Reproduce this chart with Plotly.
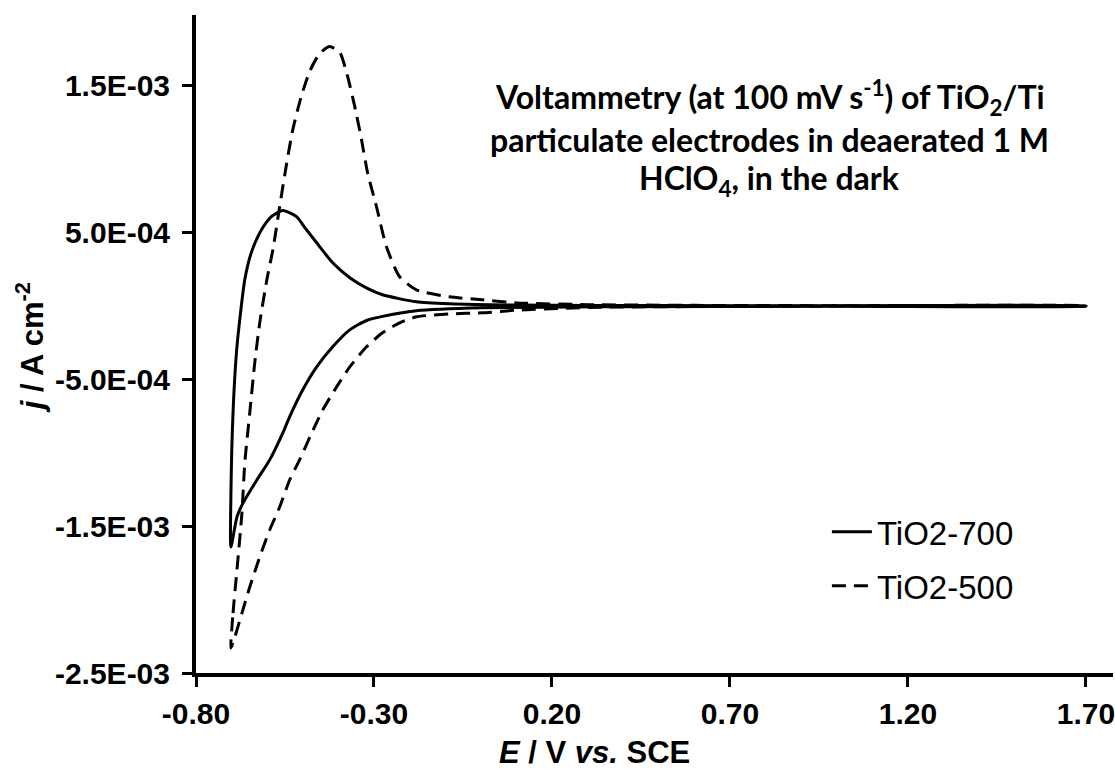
import plotly.graph_objects as go

# ---- data (E in V vs SCE, j in A cm^-2) ----
E_700 = [-0.702, -0.702, -0.696, -0.685, -0.663, -0.645, -0.621, -0.605, -0.587, -0.556,
         -0.517, -0.492, -0.461, -0.416, -0.368, -0.320, -0.276, -0.181, -0.088, 0.10,
         0.50, 1.00, 1.70,
         1.70, 1.00, 0.332, 0.004, -0.181, -0.276, -0.321, -0.368, -0.416, -0.461,
         -0.500, -0.537, -0.556, -0.593, -0.629, -0.668, -0.685, -0.702]
j_700 = [-1.642e-3, -1.30e-3, -0.729e-3, -0.279e-3, 0.177e-3, 0.360e-3, 0.497e-3, 0.560e-3, 0.610e-3, 0.649e-3,
         0.606e-3, 0.525e-3, 0.429e-3, 0.293e-3, 0.191e-3, 0.120e-3, 0.075e-3, 0.027e-3, 0.014e-3, 0.005e-3,
         0.002e-3, 0.0, 0.0,
         -0.002e-3, -0.003e-3, -0.007e-3, -0.014e-3, -0.034e-3, -0.072e-3, -0.100e-3, -0.164e-3, -0.279e-3, -0.416e-3,
         -0.572e-3, -0.756e-3, -0.865e-3, -1.049e-3, -1.186e-3, -1.343e-3, -1.438e-3, -1.642e-3]

E_500 = [-0.702, -0.696, -0.685, -0.671, -0.663, -0.649, -0.635, -0.621, -0.601, -0.584,
         -0.565, -0.545, -0.528, -0.505, -0.480, -0.452, -0.424, -0.396, -0.374, -0.354,
         -0.335, -0.318, -0.293, -0.265, -0.228, -0.181, -0.088, 0.004, 0.100, 0.30,
         0.60, 1.00, 1.70,
         1.70, 1.00, 0.332, 0.100, 0.004, -0.088, -0.181, -0.228, -0.276, -0.321,
         -0.368, -0.405, -0.444, -0.480, -0.509, -0.537, -0.565, -0.593, -0.621, -0.649,
         -0.671, -0.691, -0.702]
j_500 = [-2.330e-3, -2.092e-3, -1.799e-3, -1.411e-3, -1.070e-3, -0.729e-3, -0.388e-3, -0.116e-3, 0.177e-3, 0.382e-3,
         0.675e-3, 0.975e-3, 1.200e-3, 1.420e-3, 1.600e-3, 1.720e-3, 1.765e-3, 1.724e-3, 1.560e-3, 1.356e-3,
         1.131e-3, 0.906e-3, 0.675e-3, 0.402e-3, 0.198e-3, 0.109e-3, 0.061e-3, 0.041e-3, 0.020e-3, 0.008e-3,
         0.003e-3, 0.001e-3, 0.0,
         -0.001e-3, -0.002e-3, -0.010e-3, -0.030e-3, -0.048e-3, -0.055e-3, -0.075e-3, -0.116e-3, -0.184e-3, -0.279e-3,
         -0.416e-3, -0.552e-3, -0.709e-3, -0.893e-3, -1.049e-3, -1.186e-3, -1.370e-3, -1.526e-3, -1.710e-3, -1.915e-3,
         -2.092e-3, -2.256e-3, -2.330e-3]

x_tickvals = [-0.80, -0.30, 0.20, 0.70, 1.20, 1.70]
x_ticktext = ["-0.80", "-0.30", "0.20", "0.70", "1.20", "1.70"]
y_tickvals = [-2.5e-3, -1.5e-3, -5.0e-4, 5.0e-4, 1.5e-3]
y_ticktext = ["-2.5E-03", "-1.5E-03", "-5.0E-04", "5.0E-04", "1.5E-03"]

series_names = ["TiO2-700", "TiO2-500"]

fig = go.Figure()
fig.add_trace(go.Scatter(x=E_700, y=j_700, mode="lines", name=series_names[0],
                         legendgroup="a",
                         line=dict(color="black", width=3, shape="spline", smoothing=0.6)))
fig.add_trace(go.Scatter(x=E_500, y=j_500, mode="lines", name=series_names[1],
                         legendgroup="b",
                         line=dict(color="black", width=3, dash="14px,8px", shape="spline", smoothing=0.6)))

tickfont = dict(family="Arial, Liberation Sans, sans-serif", size=30, color="black", weight="bold")

fig.update_layout(
    width=1115, height=769,
    margin=dict(l=196, r=0, t=15, b=96),
    paper_bgcolor="white", plot_bgcolor="white",
    showlegend=True,
    legend=dict(x=0.688, y=0.257, xanchor="left", yanchor="top",
                font=dict(family="Arial, Liberation Sans, sans-serif", size=33, color="black"),
                bgcolor="rgba(0,0,0,0)", tracegroupgap=8, itemwidth=40),
    xaxis=dict(range=[-0.8, 1.776], showgrid=False, zeroline=False,
               showline=True, linecolor="black", linewidth=4,
               ticks="outside", ticklen=10, tickwidth=3, tickcolor="black",
               tickvals=x_tickvals, ticktext=x_ticktext, tickfont=tickfont,
               ticklabelstandoff=1, ticklabeloverflow="allow"),
    yaxis=dict(range=[-2.5e-3, 1.98e-3], showgrid=False, zeroline=False,
               showline=True, linecolor="black", linewidth=4,
               ticks="outside", ticklen=10, tickwidth=3, tickcolor="black",
               tickvals=y_tickvals, ticktext=y_ticktext, tickfont=tickfont,
               ticklabelstandoff=6),
)

title_font = dict(family="Lato, sans-serif", size=32, color="black", weight="bold")
lines = ["Voltammetry (at 100 mV s<sup>-1</sup>) of TiO<sub>2</sub>/Ti",
         "particulate electrodes in deaerated 1 M",
         "HClO<sub>4</sub>, in the dark"]
ypix = [97, 139, 180]
for txt, yp in zip(lines, ypix):
    fig.add_annotation(text=txt, xref="paper", yref="paper",
                       x=(771 - 196) / 919, y=(769 - 96 - yp) / 658,
                       xanchor="center", yanchor="middle", showarrow=False,
                       font=title_font)

axfont = dict(family="Arial, Liberation Sans, sans-serif", size=31, color="black", weight="bold")
fig.add_annotation(text="<i>E</i> / V <i>vs.</i> SCE", xref="paper", yref="paper",
                   x=(595 - 196) / 919, y=(769 - 96 - 752) / 658,
                   xanchor="center", yanchor="middle", showarrow=False, font=axfont)
fig.add_annotation(text="<i>j</i> / A cm<sup>-2</sup>", xref="paper", yref="paper",
                   x=(30 - 196) / 919, y=(769 - 96 - 348) / 658, textangle=-90,
                   xanchor="center", yanchor="middle", showarrow=False, font=axfont)

fig.write_html("out.html")
